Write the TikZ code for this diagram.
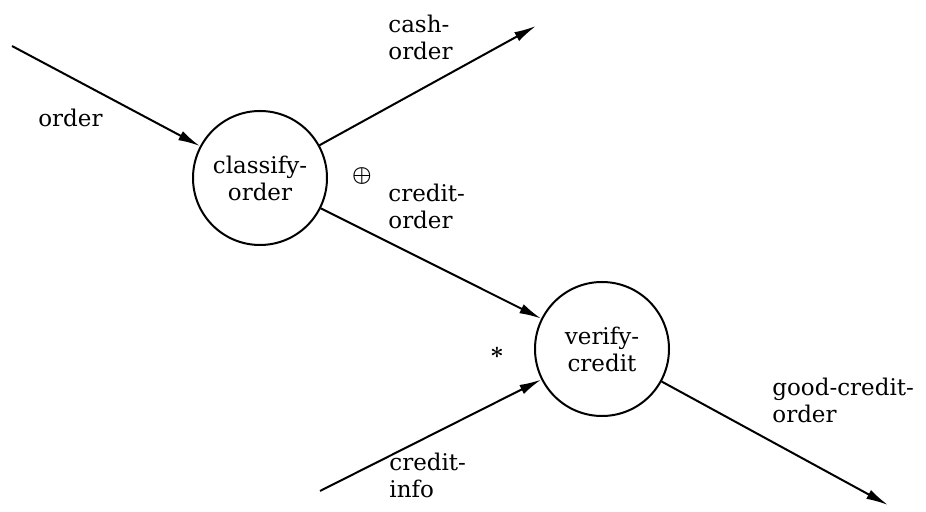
\documentclass[tikz,border=0pt]{standalone}
\usepackage{fontspec}
\setmainfont{DejaVu Serif}
\usetikzlibrary{arrows.meta}

\begin{document}
\begin{tikzpicture}[x=0.5pt, y=-0.5pt,
    process/.style={draw, circle, line width=1pt, minimum size=67pt,
                    inner sep=0pt, align=center, font=\fontsize{11.5}{13.5}\selectfont},
    flowlabel/.style={align=left, inner sep=0pt, font=\fontsize{11.5}{13.5}\selectfont},
    flow/.style={line width=1pt, -{Latex[length=11pt, width=5pt]}}]
            \useasboundingbox (0,0) rectangle (926,512);
            % Bubbles
            \node[process] (classify) at (260,178) {classify-\\order};
            \node[process] (verify) at (602,349) {verify-\\credit};

            % Free ends of the flows
            \coordinate (orderin) at (12,46);
            \coordinate (cashout) at (536,26);
            \coordinate (infoin) at (320,491);
            \coordinate (goodout) at (888,505);

            \draw[flow] (orderin) -- (classify);
            \draw[flow] (classify) -- (cashout);
            \draw[flow] (classify) -- (verify);
            \draw[flow] (infoin) -- (verify);
            \draw[flow] (verify) -- (goodout);

            % Flow names
            \node[flowlabel, anchor=base west] (orderlbl) at (38,127) {order};
            \node[flowlabel, anchor=west] (cashlbl) at (388,37) {cash-\\order};
            \node[flowlabel, anchor=west] (creditlbl) at (388,206) {credit-\\order};
            \node[flowlabel, anchor=west] (infolbl) at (389,475) {credit-\\info};
            \node[flowlabel, anchor=west] (goodlbl) at (772,400) {good-credit-\\order};

            % Connectives
            \node[font=\fontsize{11}{13}\selectfont\boldmath] (xorsym) at (362,176) {$\oplus$};
            \node[font=\fontsize{13}{16}\selectfont\boldmath] (andsym) at (497,353) {$\ast$};
\end{tikzpicture}
\end{document}
